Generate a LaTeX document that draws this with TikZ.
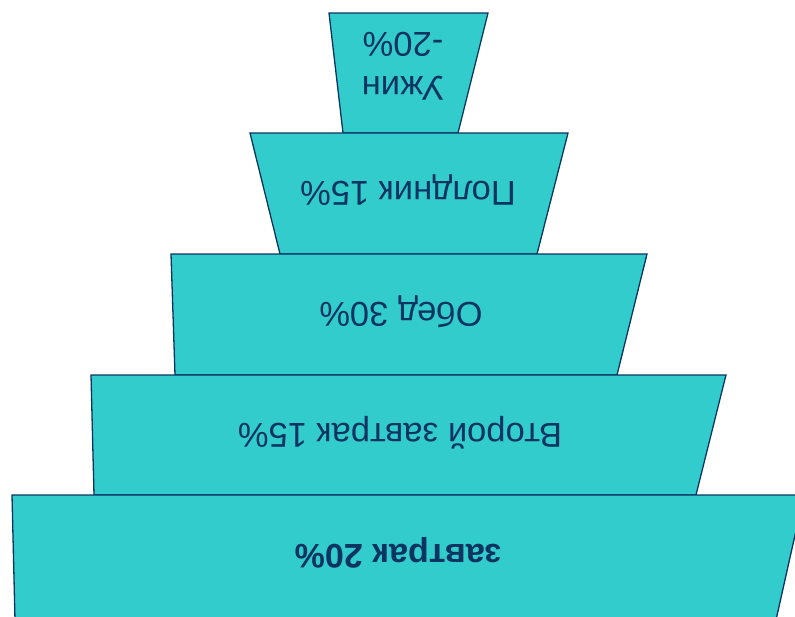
\documentclass[tikz,border=0pt]{standalone}
\usepackage{fontspec}
\setmainfont{Liberation Sans}
\definecolor{tealfill}{RGB}{51,204,204}
\definecolor{navy}{RGB}{12,52,97}

\begin{document}
\begin{tikzpicture}[x=1pt,y=-1pt,
	tier/.style={fill=tealfill,draw=navy,line width=1.3pt,line join=miter},
	meal/.style={text=navy,rotate=180,align=center,font=\fontsize{34.5}{44}\selectfont}]
			\useasboundingbox (0,0) rectangle (795,616);
			\clip (0,0) rectangle (795,616);
			
			%TIERS (top to bottom)
			\draw[tier] (329,13) -- (488,13) -- (458,133) -- (343,133) -- cycle;
			\draw[tier] (250,133) -- (568,133) -- (537,254) -- (280,254) -- cycle;
			\draw[tier] (171,254) -- (647,254) -- (617,375) -- (175,375) -- cycle;
			\draw[tier] (91,375) -- (726,375) -- (696,495) -- (94,495) -- cycle;
			\draw[tier] (12,495) -- (804,495) -- (776,620) -- (15,620) -- cycle;
			
			%LABELS
			\node[meal] (uzhin) at (403,66) {Ужин\\-20\%};
			\node[meal] (poldnik) at (408,190) {Полдник 15\%};
			\node[meal] (obed) at (401,312) {Обед 30\%};
			\node[meal] (vtoroy) at (400,433) {Второй завтрак 15\%};
			\node[meal,font=\fontsize{34}{44}\selectfont\bfseries] (zavtrak) at (398,553) {завтрак 20\%};
			
\end{tikzpicture}
\end{document}
